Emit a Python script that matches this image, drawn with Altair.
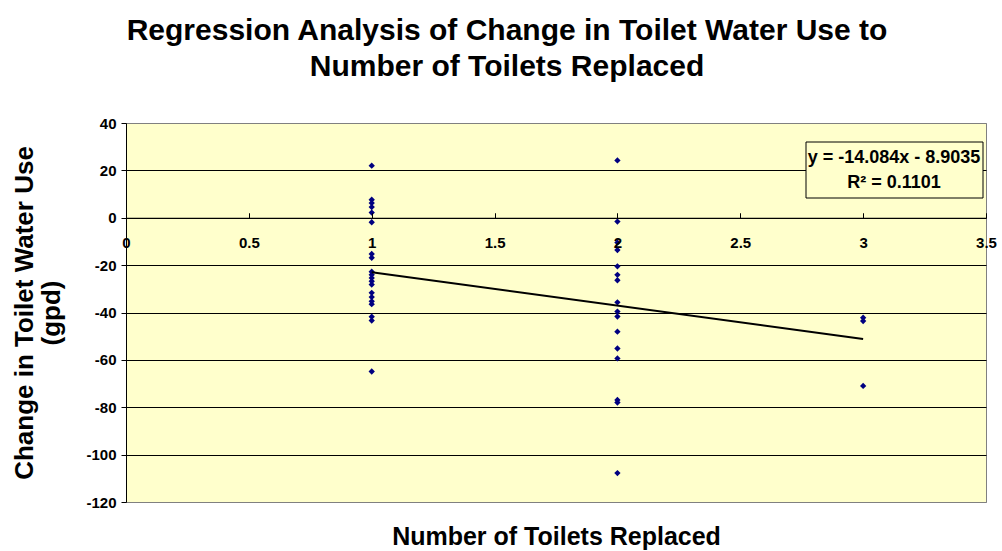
import altair as alt
import pandas as pd

# Change in toilet water use (gpd) by number of toilets replaced
one_toilet = [22.0, 7.6, 6.2, 4.5, 2.2, -1.9, -15.3, -16.9, -22.8, -24.1, -25.4,
              -26.8, -28.2, -31.7, -33.5, -35.3, -36.5, -41.8, -43.4, -64.9]
two_toilets = [24.2, -1.6, -10.5, -13.6, -20.5, -24.1, -26.4, -35.7, -39.6,
               -41.7, -48.1, -55.2, -59.4, -76.9, -78.0, -107.8]
three_toilets = [-42.2, -43.6, -71.0]

# Linear trendline reported for the fit
SLOPE = -14.084
INTERCEPT = -8.9035
R_SQUARED = 0.1101

x_ticks = [0, 0.5, 1, 1.5, 2, 2.5, 3, 3.5]
y_ticks = [40, 20, 0, -20, -40, -60, -80, -100, -120]

rows = ([(1, v) for v in one_toilet] + [(2, v) for v in two_toilets]
        + [(3, v) for v in three_toilets])
points = pd.DataFrame(rows, columns=["replaced", "change"])

ends = [points["replaced"].min(), points["replaced"].max()]
trend = pd.DataFrame({"replaced": ends,
                      "change": [SLOPE * x + INTERCEPT for x in ends]})

equation = pd.DataFrame({
    "line1": [f"y = {SLOPE}x - {abs(INTERCEPT)}"],
    "line2": [f"R\u00b2 = {R_SQUARED}"],
})

W, H = 860, 379
Y_MIN, Y_MAX = min(y_ticks), max(y_ticks)
zero_offset = -H * Y_MAX / (Y_MAX - Y_MIN)   # puts the x axis on y = 0

FONT = "Liberation Sans"

x_scale = alt.Scale(domain=[0, 3.5], nice=False, zero=False)
y_scale = alt.Scale(domain=[Y_MIN, Y_MAX], nice=False)

x_axis = alt.Axis(
    orient="top", offset=zero_offset, values=x_ticks, labelExpr="'' + datum.value",
    grid=False, domainColor="black", tickColor="black", tickSize=5,
    labelFont=FONT, labelFontSize=15, labelFontWeight=700, labelColor="black",
    labelBaseline="middle", labelPadding=-30, labelFlush=False, labelOverlap=False,
    title="Number of Toilets Replaced", titleFont=FONT, titleFontSize=25,
    titleFontWeight="bold", titleColor="black", titleX=W / 2, titleAlign="center",
    titleY=327, titleBaseline="alphabetic", zindex=1,
)

y_axis = alt.Axis(
    values=y_ticks, labelExpr="'' + datum.value",
    grid=True,
    gridColor={"condition": {"test": "datum.value === 40 || datum.value === -120",
                             "value": "#808080"}, "value": "black"},
    domainColor="black", tickColor="black", tickSize=5,
    labelFont=FONT, labelFontSize=15, labelFontWeight=700, labelColor="black",
    labelPadding=5,
    title=["Change in Toilet Water Use", "(gpd)"], titleFont=FONT, titleFontSize=26,
    titleFontWeight="bold", titleColor="black", titleX=-94, titleY=H / 2,
    titleAlign="center", titleBaseline="alphabetic", titleLineHeight=27,
)

X = alt.X("replaced:Q", scale=x_scale, axis=x_axis)
Y = alt.Y("change:Q", scale=y_scale, axis=y_axis)

dots = alt.Chart(points).mark_point(
    shape="diamond", filled=True, size=40, color="#000080", opacity=1
).encode(x=X, y=Y)

line = alt.Chart(trend).mark_line(color="black", strokeWidth=2).encode(x=X, y=Y)

box = alt.Chart(equation).mark_rect(
    fill="#FFFFCC", stroke="black", strokeWidth=1
).encode(x=alt.value(680), x2=alt.value(857), y=alt.value(19), y2=alt.value(75))

eq_text = alt.Chart(equation).mark_text(
    font=FONT, fontSize=18, fontWeight="bold", color="black", baseline="alphabetic"
).encode(x=alt.value(768), y=alt.value(40), text="line1:N")

r2_text = alt.Chart(equation).mark_text(
    font=FONT, fontSize=18, fontWeight="bold", color="black", baseline="alphabetic"
).encode(x=alt.value(768), y=alt.value(65), text="line2:N")

chart = alt.layer(dots, line, box, eq_text, r2_text).properties(
    width=W, height=H,
    title=alt.TitleParams(
        text=["Regression Analysis of Change in Toilet Water Use to",
              "Number of Toilets Replaced"],
        font=FONT, fontSize=30, fontWeight="bold", color="black",
        anchor="middle", dx=-49, lineHeight=36, offset=34,
    ),
    autosize=alt.AutoSizeParams(type="none"),
    padding={"left": 126, "top": 123, "right": 16, "bottom": 49},
    background="white",
).configure_view(fill="#FFFFCC", stroke="#808080", strokeWidth=1)

chart.save("out.html", embed_options={"renderer": "svg", "actions": False})
